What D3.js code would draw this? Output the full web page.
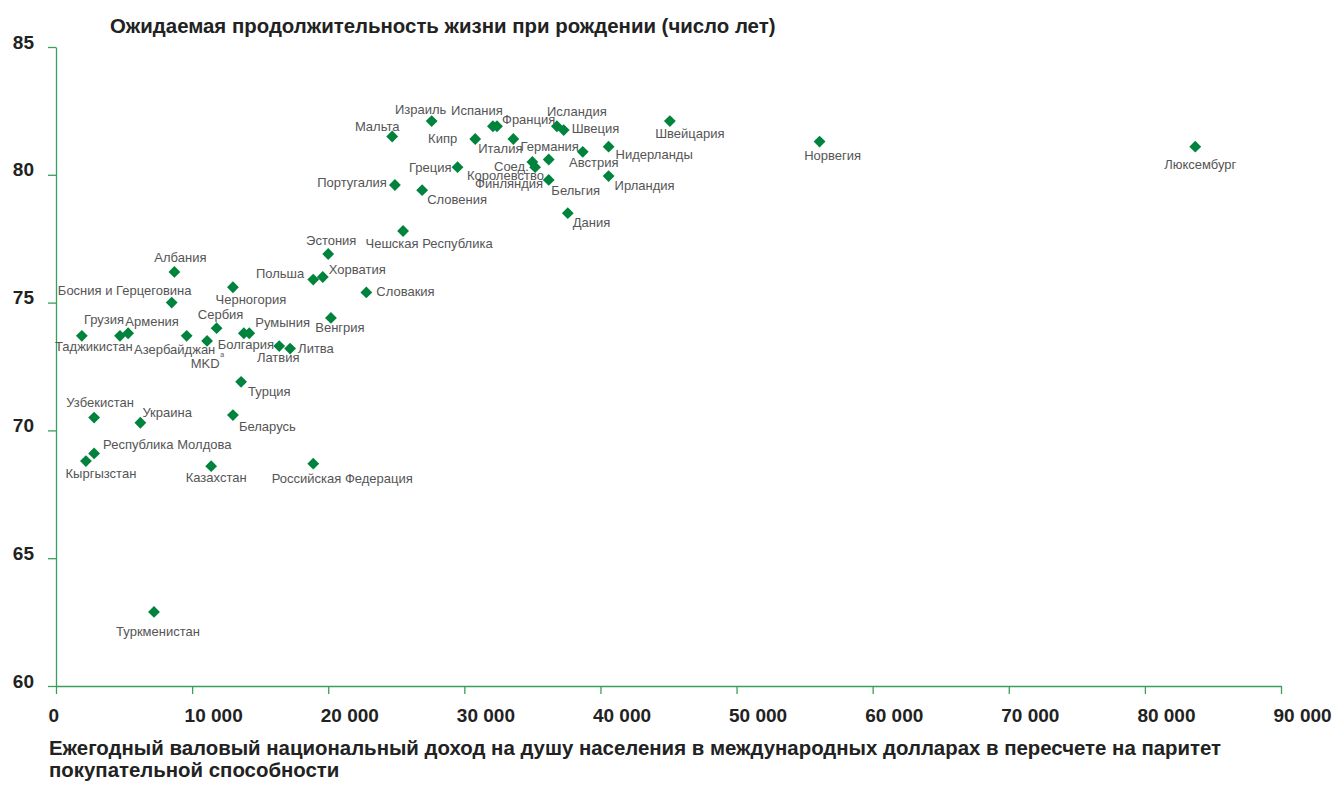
<!DOCTYPE html>
<html lang="ru">
<head>
<meta charset="utf-8">
<title>Ожидаемая продолжительность жизни и доход</title>
<script src="https://cdn.jsdelivr.net/npm/d3@7"></script>
<style>
  html, body { margin: 0; padding: 0; background: #fff; }
  svg { display: block; font-family: "Liberation Sans", Arial, Helvetica, sans-serif; }
  .axis-title { font-weight: bold; font-size: 20.4px; fill: #222; }
  .tick-label { font-weight: bold; font-size: 19px; fill: #222; }
  .pt-label { font-size: 13px; fill: #555; }
</style>
</head>
<body>
<svg id="chart" width="1336" height="787"></svg>
<script>
// Countries, GNI per capita (PPP, international $) and life expectancy at birth
const countries = [
  "Люксембург", "Норвегия", "Швейцария", "Исландия", "Швеция", "Нидерланды",
  "Австрия", "Ирландия", "Бельгия", "Германия", "Соед. Королевство", "Финляндия",
  "Испания", "Франция", "Италия", "Кипр", "Израиль", "Мальта", "Греция",
  "Португалия", "Словения", "Дания", "Чешская Республика", "Эстония", "Хорватия",
  "Польша", "Словакия", "Венгрия", "Албания", "Черногория", "Босния и Герцеговина",
  "Сербия", "Болгария", "Румыния", "MKD", "Азербайджан", "Грузия", "Армения",
  "Таджикистан", "Латвия", "Литва", "Турция", "Узбекистан", "Украина", "Беларусь",
  "Республика Молдова", "Кыргызстан", "Казахстан", "Российская Федерация", "Туркменистан"
];
const gniPerCapita = [
  83700, 56100, 45100, 36800, 37300, 40600,
  38700, 40600, 36200, 36200, 35000, 35200,
  32100, 32400, 33600, 30800, 27600, 24700, 29500,
  24900, 26900, 37600, 25500, 20000, 19600,
  18900, 22800, 20200, 8700, 13000, 8500,
  11800, 13800, 14200, 11100, 9600, 4700, 5300,
  1900, 16400, 17200, 13600, 2800, 6200, 13000,
  2800, 2200, 11400, 18900, 7200
];
const lifeExpectancy = [
  81.1, 81.3, 82.1, 81.9, 81.75, 81.1,
  80.9, 79.95, 79.8, 80.6, 80.5, 80.3,
  81.9, 81.9, 81.4, 81.4, 82.1, 81.5, 80.3,
  79.6, 79.4, 78.5, 77.8, 76.9, 76.0,
  75.9, 75.4, 74.4, 76.2, 75.6, 75.0,
  74.0, 73.8, 73.8, 73.5, 73.7, 73.7, 73.8,
  73.7, 73.3, 73.2, 71.9, 70.5, 70.3, 70.6,
  69.1, 68.8, 68.6, 68.7, 62.9
];

// Axis ticks and titles
const xTicks = [0, 10000, 20000, 30000, 40000, 50000, 60000, 70000, 80000, 90000];
const yTicks = [60, 65, 70, 75, 80, 85];
const yTitle = "Ожидаемая продолжительность жизни при рождении (число лет)";
const xTitleLines = [
  "Ежегодный валовый национальный доход на душу населения в международных долларах в пересчете на паритет",
  "покупательной способности"
];

// Label placement next to each marker: [anchor, dx, dy]
const labelPlacement = [
  ["middle", 5, 22], ["middle", 13, 18], ["middle", 20, 17], ["middle", 20, -10], ["start", 8, 3], ["start", 7, 12],
  ["middle", 11, 15], ["start", 6, 14], ["middle", 27, 15], ["middle", 1, -8], ["middle", -27, 9], ["middle", -26, 21],
  ["middle", -16, -11], ["start", 5, -2], ["middle", -13, 14], ["end", -18, 4], ["middle", -11, -7], ["middle", -15, -5], ["end", -6, 5],
  ["end", -8, 2], ["start", 5, 14], ["start", 5, 14], ["middle", 26, 17], ["middle", 3, -9], ["start", 6, -3],
  ["end", -9, -2], ["start", 10, 4], ["middle", 9, 14], ["middle", 6, -10], ["middle", 18, 17], ["middle", -47, -8],
  ["middle", 4, -9], ["middle", 2, 16], ["start", 6, -6], ["middle", -2, 27], ["middle", -12, 18], ["middle", -16, -12], ["middle", 24, -7],
  ["middle", 12, 15], ["middle", -1, 16], ["start", 8, 4], ["start", 7, 14], ["middle", 6, -11], ["start", 2, -6], ["start", 6, 16],
  ["start", 9, -4], ["middle", 15, 17], ["middle", 5, 16], ["middle", 29, 19], ["middle", 4, 24]
];

const axisColor = "#3b9e5e";
const markColor = "#00843d";

const svg = d3.select("#chart");

const x = d3.scaleLinear().domain([0, 90000]).range([56, 1281]);
const y = d3.scaleLinear().domain([60, 85]).range([686, 47]);

const ru = d3.formatLocale({ decimal: ",", thousands: "\u00a0", grouping: [3], currency: ["", ""] });
const fmt = ru.format(",d");

// Y axis
const yAxis = svg.append("g")
  .attr("transform", `translate(${x(0)},0)`)
  .call(d3.axisLeft(y).tickValues(yTicks).tickSize(8).tickSizeOuter(0).tickPadding(14).tickFormat(d3.format("d")));
yAxis.select(".domain").attr("stroke", axisColor).attr("stroke-width", 1.3);
yAxis.selectAll(".tick line").attr("stroke", axisColor).attr("stroke-width", 1.3);
yAxis.selectAll(".tick text").attr("class", "tick-label").attr("dy", 1);

// X axis: labels start just left of their tick
const xAxis = svg.append("g")
  .attr("transform", `translate(0,${y(60)})`)
  .call(d3.axisBottom(x).tickValues(xTicks).tickSize(8).tickSizeOuter(0).tickPadding(15).tickFormat(fmt));
xAxis.select(".domain").attr("stroke", axisColor).attr("stroke-width", 1.3);
xAxis.selectAll(".tick line").attr("stroke", axisColor).attr("stroke-width", 1.3);
xAxis.selectAll(".tick text").attr("class", "tick-label")
  .attr("text-anchor", "start").attr("x", -8);
svg.selectAll("g[font-family]").attr("font-family", null).attr("font-size", null);

// Axis titles
svg.append("text").attr("class", "axis-title").attr("x", 110).attr("y", 33).text(yTitle);
svg.append("text").attr("class", "axis-title")
  .selectAll("tspan").data(xTitleLines).join("tspan")
  .attr("x", 49).attr("y", (d, i) => 755 + i * 22).text(d => d);

// Data
const data = countries.map((name, i) => ({
  name, gni: gniPerCapita[i], le: lifeExpectancy[i],
  anchor: labelPlacement[i][0], dx: labelPlacement[i][1], dy: labelPlacement[i][2]
}));

const diamond = d3.symbol().type(d3.symbolSquare).size(70);

svg.append("g").selectAll("path").data(data).join("path")
  .attr("d", diamond)
  .attr("transform", d => `translate(${x(d.gni)},${y(d.le)}) rotate(45)`)
  .attr("fill", markColor);

const labels = svg.append("g").selectAll("text").data(data).join("text")
  .attr("class", "pt-label")
  .attr("text-anchor", d => d.anchor)
  .attr("x", d => x(d.gni) + d.dx)
  .attr("y", d => y(d.le) + d.dy);

labels.each(function (d) {
  const t = d3.select(this);
  if (d.name === "Соед. Королевство") {
    t.append("tspan").attr("x", x(d.gni) + d.dx + 6).text("Соед.");
    t.append("tspan").attr("x", x(d.gni) + d.dx).attr("dy", 9).text("Королевство");
  } else {
    t.text(d.name);
  }
});

// Footnote mark under the MKD label cluster
const mkd = data.find(d => d.name === "MKD");
svg.append("text").attr("class", "pt-label").style("font-size", "7px")
  .attr("text-anchor", "middle")
  .attr("x", x(mkd.gni) + 15).attr("y", y(mkd.le) + 16).text("а");
</script>
</body>
</html>
